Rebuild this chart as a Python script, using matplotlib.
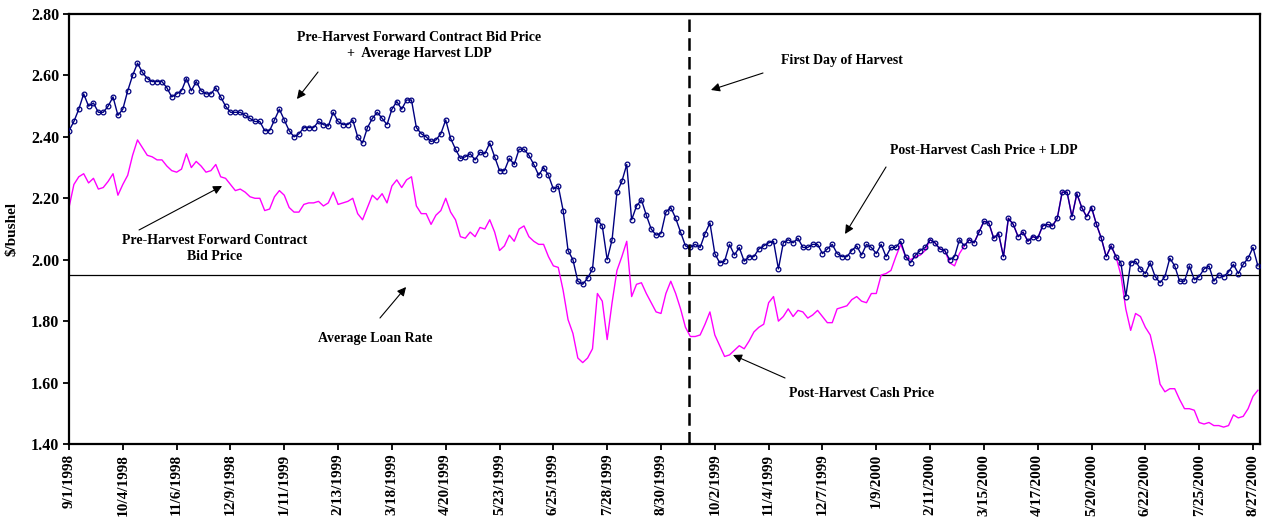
import matplotlib
matplotlib.use("Agg")
import matplotlib.pyplot as plt
import pandas as pd

# Cash price series, sampled every 3 days from 9/1/1998
start = "1998-09-01"
harvest_day = "1999-09-16"
loan_rate = 1.95

# pre-harvest forward bid + avg LDP, then post-harvest cash + LDP
plus_ldp = [
    2.42, 2.45, 2.49, 2.54, 2.50, 2.51, 2.48, 2.48, 2.50, 2.53,
    2.47, 2.49, 2.55, 2.60, 2.64, 2.61, 2.59, 2.58, 2.58, 2.58,
    2.56, 2.53, 2.54, 2.55, 2.59, 2.55, 2.58, 2.55, 2.54, 2.54,
    2.56, 2.53, 2.50, 2.48, 2.48, 2.48, 2.47, 2.46, 2.45, 2.45,
    2.42,
    2.42, 2.455, 2.49, 2.455, 2.42, 2.40, 2.41, 2.43, 2.43, 2.43,
    2.45, 2.44, 2.435, 2.48, 2.45, 2.44, 2.44, 2.455, 2.40, 2.38,
    2.43, 2.46, 2.48, 2.46, 2.44, 2.49, 2.515, 2.49, 2.52, 2.52,
    2.43, 2.41, 2.40, 2.385, 2.39, 2.41, 2.455, 2.395, 2.36, 2.33,
    2.335, 2.345, 2.325, 2.35, 2.345, 2.38, 2.335, 2.29, 2.29, 2.33,
    2.31, 2.36, 2.36, 2.34, 2.31, 2.275, 2.30, 2.275, 2.23, 2.24,
    2.16, 2.03, 2.00, 1.93, 1.92, 1.94, 1.97, 2.13, 2.11, 2.00,
    2.065, 2.22, 2.255, 2.31, 2.13, 2.175, 2.195, 2.145, 2.10, 2.08,
    2.085,
    2.155, 2.17, 2.135, 2.09, 2.045, 2.04, 2.05, 2.04, 2.085, 2.12,
    2.02, 1.99, 1.995, 2.05, 2.015, 2.04, 1.995, 2.01, 2.01, 2.035,
    2.045, 2.055, 2.06, 1.97, 2.055, 2.065, 2.055, 2.07, 2.04, 2.04,
    2.05, 2.05, 2.02, 2.035, 2.05, 2.02, 2.01, 2.01, 2.03, 2.045,
    2.015,
    2.05, 2.04, 2.02, 2.05, 2.01, 2.04, 2.04, 2.06, 2.01, 1.99,
    2.015, 2.03, 2.04, 2.065, 2.055, 2.035, 2.03, 2.00, 2.01, 2.065,
    2.045, 2.065, 2.055, 2.09, 2.125, 2.12, 2.07, 2.085, 2.01, 2.135,
    2.115, 2.075, 2.09, 2.06, 2.075, 2.07, 2.11, 2.115, 2.11, 2.135,
    2.22,
    2.22, 2.14, 2.215, 2.17, 2.14, 2.17, 2.115, 2.07, 2.01, 2.045,
    2.01, 1.99, 1.88, 1.99, 1.995, 1.97, 1.955, 1.99, 1.945, 1.925,
    1.945, 2.005, 1.98, 1.93, 1.93, 1.98, 1.935, 1.945, 1.97, 1.98,
    1.93, 1.95, 1.945, 1.96, 1.985, 1.955, 1.985, 2.005, 2.04, 1.98,
]

# pre-harvest forward contract bid, then post-harvest cash price
bid_cash = [
    2.17, 2.245, 2.27, 2.28, 2.25, 2.265, 2.23, 2.235, 2.255, 2.28,
    2.21, 2.245, 2.275, 2.34, 2.39, 2.365, 2.34, 2.335, 2.325, 2.325,
    2.305, 2.29, 2.285, 2.295, 2.345, 2.30, 2.32, 2.305, 2.285, 2.29,
    2.31, 2.27, 2.265, 2.245, 2.225, 2.23, 2.22, 2.205, 2.20, 2.20,
    2.16,
    2.165, 2.205, 2.225, 2.21, 2.17, 2.155, 2.155, 2.18, 2.185, 2.185,
    2.19, 2.175, 2.185, 2.22, 2.18, 2.185, 2.19, 2.20, 2.15, 2.13,
    2.17, 2.21, 2.195, 2.215, 2.185, 2.24, 2.26, 2.235, 2.26, 2.27,
    2.175, 2.15, 2.15, 2.115, 2.145, 2.16, 2.20, 2.155, 2.13, 2.075,
    2.07, 2.09, 2.075, 2.105, 2.10, 2.13, 2.09, 2.03, 2.045, 2.08,
    2.06, 2.10, 2.11, 2.075, 2.06, 2.05, 2.05, 2.01, 1.98, 1.975,
    1.90, 1.805, 1.76, 1.68, 1.665, 1.68, 1.71, 1.89, 1.865, 1.74,
    1.86, 1.965, 2.01, 2.06, 1.88, 1.92, 1.925, 1.89, 1.86, 1.83,
    1.825,
    1.89, 1.93, 1.89, 1.84, 1.78, 1.75, 1.75, 1.755, 1.79, 1.83,
    1.755, 1.72, 1.685, 1.69, 1.705, 1.72, 1.71, 1.735, 1.765, 1.78,
    1.79, 1.86, 1.88, 1.80, 1.815, 1.84, 1.815, 1.835, 1.83, 1.81,
    1.82, 1.835, 1.815, 1.795, 1.795, 1.84, 1.845, 1.85, 1.87, 1.88,
    1.865,
    1.86, 1.89, 1.89, 1.95, 1.955, 1.965, 2.01, 2.05, 2.01, 2.00,
    2.01, 2.015, 2.03, 2.065, 2.055, 2.035, 2.03, 1.99, 1.98, 2.02,
    2.045, 2.065, 2.055, 2.09, 2.125, 2.12, 2.07, 2.085, 2.01, 2.135,
    2.115, 2.075, 2.09, 2.06, 2.075, 2.07, 2.11, 2.115, 2.11, 2.135,
    2.22,
    2.22, 2.14, 2.215, 2.17, 2.14, 2.17, 2.115, 2.07, 2.01, 2.045,
    2.01, 1.95, 1.84, 1.77, 1.825, 1.815, 1.78, 1.755, 1.685, 1.595,
    1.57, 1.58, 1.58, 1.545, 1.515, 1.515, 1.51, 1.47, 1.465, 1.47,
    1.46, 1.46, 1.455, 1.46, 1.495, 1.485, 1.49, 1.515, 1.555, 1.575,
]

y_ticks = [1.40, 1.60, 1.80, 2.00, 2.20, 2.40, 2.60, 2.80]

dates = pd.date_range(start, periods=len(plus_ldp), freq="3D")
tick_dates = pd.date_range(start, periods=23, freq="33D")
tick_labels = [f"{d.month}/{d.day}/{d.year}" for d in tick_dates]

plt.rcParams["font.family"] = ["Liberation Serif", "DejaVu Serif"]
plt.rcParams["font.weight"] = "bold"

fig = plt.figure(figsize=(12.63, 5.23), dpi=100)
ax = fig.add_axes([69 / 1263, 79 / 523, 1191 / 1263, 430 / 523])

ax.plot(dates, bid_cash, color="#FF00FF", lw=1.0, zorder=2)
ax.plot(dates, plus_ldp, color="#000080", lw=1.0, marker="o", markersize=3.4,
        markerfacecolor="none", markeredgecolor="#000080", markeredgewidth=0.9,
        zorder=3)
ax.axhline(loan_rate, color="black", lw=0.9, zorder=1)
ax.axvline(pd.Timestamp(harvest_day), color="black", lw=1.8,
           dashes=(5, 2.5), zorder=4)

ax.set_xlim(pd.Timestamp(start), pd.Timestamp(start) + pd.Timedelta(days=730.3))
ax.set_ylim(1.40, 2.80)
ax.set_yticks(y_ticks)
ax.set_yticklabels([f"{v:.2f}" for v in y_ticks], fontsize=11.5, fontweight="bold")
ax.set_xticks(tick_dates)
ax.set_xticklabels(tick_labels, rotation=90, fontsize=11, fontweight="bold")
ax.tick_params(direction="out", length=4, width=1.3, pad=3)
for s in ax.spines.values():
    s.set_linewidth(1.6)
ax.set_ylabel("\\$/bushel", fontsize=11, fontweight="bold", labelpad=9)

notes = [
    ("Pre-Harvest Forward Contract Bid Price\n+  Average Harvest LDP",
     (0.2939, 0.9267), (0.2091, 0.8651), (0.1914, 0.8023)),
    ("First Day of Harvest", (0.6490, 0.8907), (0.5827, 0.8628), (0.5390, 0.8233)),
    ("Post-Harvest Cash Price + LDP", (0.7683, 0.6837), (0.6860, 0.6442), (0.6516, 0.4884)),
    ("Pre-Harvest Forward Contract\nBid Price", (0.1226, 0.4547), (0.0588, 0.4977), (0.1285, 0.6000)),
    ("Average Loan Rate", (0.2569, 0.2465), (0.2611, 0.2930), (0.2830, 0.3651)),
    ("Post-Harvest Cash Price", (0.6658, 0.1163), (0.6012, 0.1535), (0.5575, 0.2070)),
]
for text, pos, tail, head in notes:
    ax.text(pos[0], pos[1], text, transform=ax.transAxes, ha="center", va="center",
            fontsize=10, fontweight="bold", linespacing=1.25)
    ax.annotate("", xy=head, xytext=tail, xycoords="axes fraction",
                arrowprops=dict(arrowstyle="-|>", color="black", lw=0.8,
                                mutation_scale=13, shrinkA=0, shrinkB=0))

fig.savefig("out.png", dpi=100)
